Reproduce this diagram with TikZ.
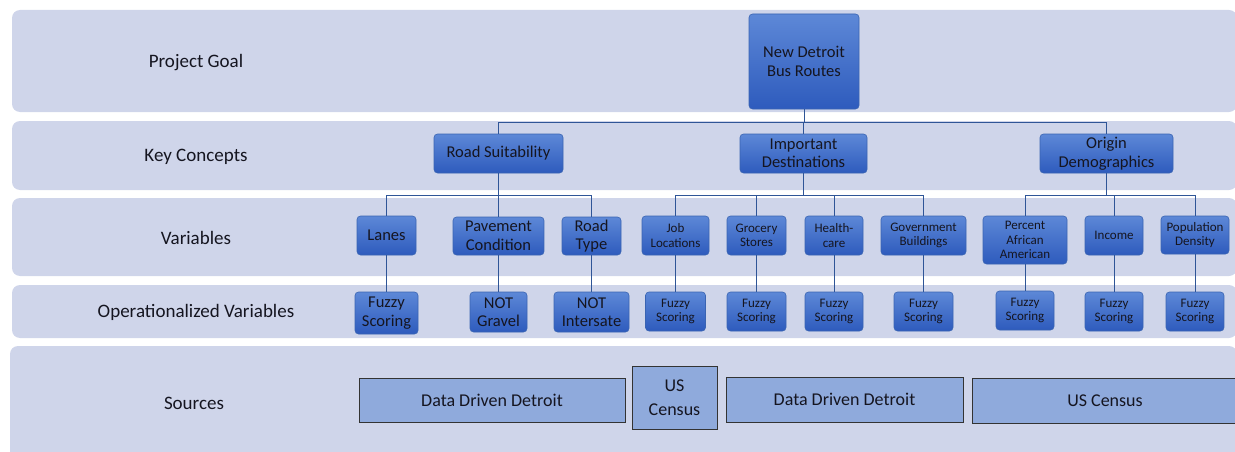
\documentclass[tikz,border=0pt]{standalone}
\usepackage{fontspec}
\setmainfont{Carlito}
\definecolor{bandfill}{HTML}{CFD5EA}
\definecolor{ntop}{HTML}{5D88D7}
\definecolor{nbot}{HTML}{2E5BBD}
\definecolor{nborder}{HTML}{3A64B2}
\definecolor{connc}{HTML}{2F5597}
\definecolor{srcfill}{HTML}{8FAADC}
\definecolor{txt}{HTML}{151520}
\tikzset{
  band/.style={fill=bandfill, draw=none, rounded corners=8pt},
  bandlabel/.style={font=\fontsize{19}{22}\selectfont, text=txt},
  vbox/.style={rounded corners=3.5pt, draw=nborder, line width=0.6pt, top color=ntop, bottom color=nbot, text=txt, align=center, inner sep=0pt},
  bigtxt/.style={font=\fontsize{16.5}{18.5}\selectfont},
  smalltxt/.style={font=\fontsize{13}{14.5}\selectfont},
  conn/.style={draw=connc, line width=0.9pt},
  srcbox/.style={fill=srcfill, draw=black!80, line width=0.9pt, text=txt, align=center, inner sep=0pt, font=\fontsize{18}{24}\selectfont},
}
\begin{document}
\begin{tikzpicture}[x=1pt,y=-1pt]
\useasboundingbox (0,0) rectangle (1235,452);
% bands
\fill[band] (12,10) rectangle (1237,112);
\fill[band] (12,121) rectangle (1237,190);
\fill[band] (12,198) rectangle (1237,276);
\fill[band] (12,285) rectangle (1237,338);
\fill[band] (10,346) rectangle (1237,470);
% band labels
\node[bandlabel] (lgoal) at (196,62.5) {Project Goal};
\node[bandlabel] (lkey) at (196,157) {Key Concepts};
\node[bandlabel] (lvar) at (196,238) {Variables};
\node[bandlabel] (lop) at (196,312) {Operationalized Variables};
\node[bandlabel] (lsrc) at (194,403) {Sources};
% bus coordinates
\coordinate (busroot) at (0,122);
\coordinate (busvar) at (0,195);
% root
\node[vbox, bigtxt, minimum width=110pt, minimum height=95pt] (root) at (804,61.5) {New Detroit\\Bus Routes};
% key concepts
\node[vbox, bigtxt, minimum width=129pt, minimum height=39pt] (rs) at (498.5,153.5) {Road Suitability};
\node[vbox, bigtxt, minimum width=127pt, minimum height=39pt] (id) at (803.5,153.5) {Important\\Destinations};
\node[vbox, bigtxt, minimum width=133pt, minimum height=39pt] (od) at (1106.5,153.5) {Origin\\Demographics};
% variables
\node[vbox, bigtxt, minimum width=59pt, minimum height=39pt] (lanes) at (386.5,235.5) {Lanes};
\node[vbox, bigtxt, minimum width=91pt, minimum height=38pt] (pave) at (498.5,236) {Pavement\\Condition};
\node[vbox, bigtxt, minimum width=59pt, minimum height=38pt] (rtype) at (591.5,236) {Road\\Type};
\node[vbox, smalltxt, minimum width=67pt, minimum height=39pt] (job) at (675.5,235.5) {Job\\Locations};
\node[vbox, smalltxt, minimum width=59pt, minimum height=39pt] (groc) at (756.5,235.5) {Grocery\\Stores};
\node[vbox, smalltxt, minimum width=58pt, minimum height=39pt] (health) at (834,235.5) {Health-\\care};
\node[vbox, smalltxt, minimum width=85pt, minimum height=39pt] (gov) at (923.5,235.5) {Government\\Buildings};
\node[vbox, smalltxt, minimum width=84pt, minimum height=48pt] (paa) at (1025,240) {Percent\\African\\American};
\node[vbox, smalltxt, minimum width=58pt, minimum height=39pt] (inc) at (1114,235.5) {Income};
\node[vbox, smalltxt, minimum width=68pt, minimum height=38pt] (pop) at (1195,235) {Population\\Density};
% operationalized
\node[vbox, bigtxt, minimum width=63pt, minimum height=42pt] (olanes) at (386.5,313) {Fuzzy\\Scoring};
\node[vbox, bigtxt, minimum width=57pt, minimum height=40pt] (opave) at (498.5,312) {NOT\\Gravel};
\node[vbox, bigtxt, minimum width=75pt, minimum height=40pt] (ortype) at (591.5,312) {NOT\\Intersate};
\node[vbox, smalltxt, minimum width=60pt, minimum height=39pt] (ojob) at (675.5,311.5) {Fuzzy\\Scoring};
\node[vbox, smalltxt, minimum width=59pt, minimum height=39pt] (ogroc) at (756.5,311.5) {Fuzzy\\Scoring};
\node[vbox, smalltxt, minimum width=58pt, minimum height=39pt] (ohealth) at (834,311.5) {Fuzzy\\Scoring};
\node[vbox, smalltxt, minimum width=59pt, minimum height=39pt] (ogov) at (923.5,311.5) {Fuzzy\\Scoring};
\node[vbox, smalltxt, minimum width=58pt, minimum height=39pt] (opaa) at (1025,310.5) {Fuzzy\\Scoring};
\node[vbox, smalltxt, minimum width=58pt, minimum height=39pt] (oinc) at (1114,311.5) {Fuzzy\\Scoring};
\node[vbox, smalltxt, minimum width=58pt, minimum height=39pt] (opop) at (1195,311.5) {Fuzzy\\Scoring};
% connectors root -> key concepts
\foreach \c in {rs,id,od}{
  \draw[conn] (root.south) -- (root.south |- busroot) -| (\c.north);
}
% key concepts -> variables
\foreach \c in {lanes,pave,rtype}{
  \draw[conn] (rs.south) -- (rs.south |- busvar) -| (\c.north);
}
\foreach \c in {job,groc,health,gov}{
  \draw[conn] (id.south) -- (id.south |- busvar) -| (\c.north);
}
\foreach \c in {paa,inc,pop}{
  \draw[conn] (od.south) -- (od.south |- busvar) -| (\c.north);
}
% variables -> operationalized
\draw[conn] (lanes.south) -- (olanes.north);
\draw[conn] (pave.south) -- (opave.north);
\draw[conn] (rtype.south) -- (ortype.north);
\draw[conn] (job.south) -- (ojob.north);
\draw[conn] (groc.south) -- (ogroc.north);
\draw[conn] (health.south) -- (ohealth.north);
\draw[conn] (gov.south) -- (ogov.north);
\draw[conn] (paa.south) -- (opaa.north);
\draw[conn] (inc.south) -- (oinc.north);
\draw[conn] (pop.south) -- (opop.north);
% sources
\node[srcbox, minimum width=266pt, minimum height=44pt] (s1) at (492,400) {Data Driven Detroit};
\node[srcbox, minimum width=85pt, minimum height=63pt] (s2) at (674.5,397.5) {US\\Census};
\node[srcbox, minimum width=237pt, minimum height=45pt] (s3) at (844.5,399.5) {Data Driven Detroit};
\node[srcbox, minimum width=266pt, minimum height=45pt] (s4) at (1105,400.5) {US Census};
\end{tikzpicture}
\end{document}
